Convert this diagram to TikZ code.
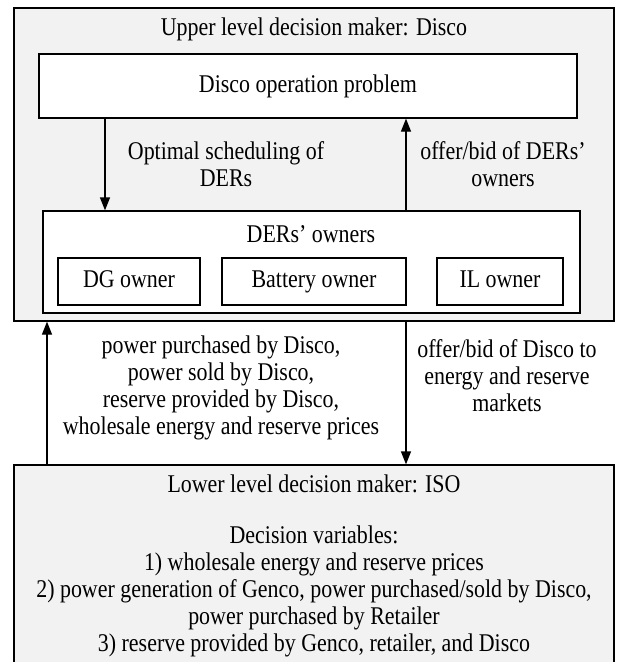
\documentclass[tikz,border=0pt]{standalone}
\usepackage{fontspec}
\setmainfont[FakeStretch=0.86]{Liberation Serif}
\usetikzlibrary{arrows.meta}

\tikzset{
  txt/.style={font=\fontsize{25.5}{27}\selectfont, align=center, inner sep=0pt},
  levelbox/.style={draw, fill=black!5, line width=1.2pt, inner sep=0pt},
  whitebox/.style={draw, fill=white, line width=1.2pt, inner sep=0pt},
  ownerbox/.style={whitebox, txt, minimum height=47pt, text height=17pt, text depth=5pt},
  arr/.style={line width=1.2pt, -{Triangle[length=13pt, width=10pt]}}
}

\begin{document}
\begin{tikzpicture}[x=1pt, y=1pt]
    \useasboundingbox (0,0) rectangle (625,-662);

    % Upper level: Disco
    \node[levelbox, minimum width=600pt, minimum height=313pt] (upper) at (314,-164.5) {};
    \node[txt] (uppertitle) at (314,-29) {Upper level decision maker: Disco};

    \node[whitebox, minimum width=538pt, minimum height=64pt] (disco) at (308,-86) {};
    \node[txt] (discotxt) at (308,-86) {Disco operation problem};

    \node[whitebox, minimum width=537pt, minimum height=102pt] (owners) at (311.5,-262) {};
    \node[txt] (ownerstitle) at (311,-234) {DERs’ owners};

    \node[ownerbox, minimum width=142pt] (dg) at (129,-281.5) {DG owner};
    \node[ownerbox, minimum width=184pt] (battery) at (314,-281.5) {Battery owner};
    \node[ownerbox, minimum width=126pt] (il) at (500,-281.5) {IL owner};

    \coordinate (schedx) at (105,0);
    \coordinate (bidx) at (406,0);
    \draw[arr] (disco.south -| schedx) -- (owners.north -| schedx);
    \draw[arr] (owners.north -| bidx) -- (disco.south -| bidx);

    \node[txt] (sched) at (226,-164) {Optimal scheduling of\\DERs};
    \node[txt] (derbid) at (503,-164) {offer/bid of DERs’\\owners};

    % Lower level: ISO
    \node[levelbox, minimum width=600pt, minimum height=215pt] (lower) at (314,-572.5) {};
    \node[txt] (lowertitle) at (314,-484) {Lower level decision maker: ISO};
    \node[txt] (vars) at (314,-591.5) {Decision variables:\\
        1) wholesale energy and reserve prices\\
        2) power generation of Genco, power purchased/sold by Disco,\\
        power purchased by Retailer\\
        3) reserve provided by Genco, retailer, and Disco};

    \coordinate (resx) at (47,0);
    \draw[arr] (lower.north -| resx) -- (upper.south -| resx);
    \draw[arr] (upper.south -| bidx) -- (lower.north -| bidx);

    \node[txt] (results) at (221,-388) {power purchased by Disco,\\
        power sold by Disco,\\
        reserve provided by Disco,\\
        wholesale energy and reserve prices};
    \node[txt] (discobid) at (507,-376) {offer/bid of Disco to\\energy and reserve\\markets};
\end{tikzpicture}
\end{document}
